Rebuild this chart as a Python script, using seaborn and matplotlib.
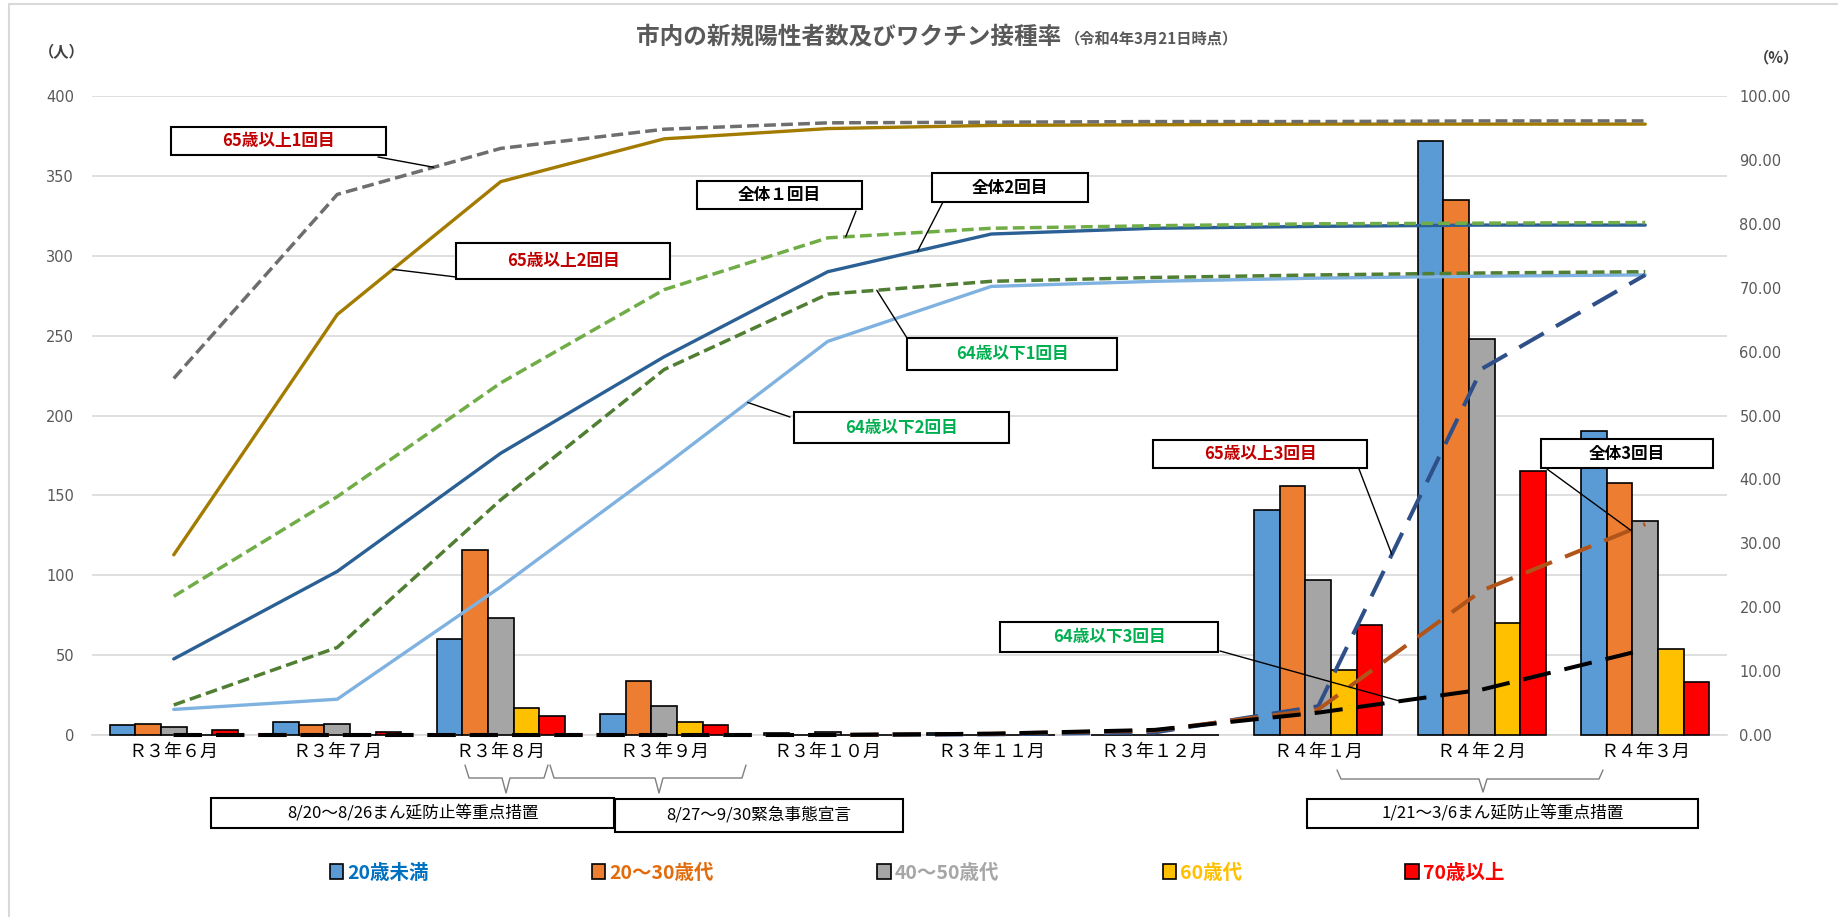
import numpy as np
import pandas as pd
import seaborn as sns
import matplotlib.pyplot as plt
from matplotlib.patches import Rectangle, Patch, ConnectionPatch
from matplotlib.lines import Line2D

W, H = 1838, 917

months = ['Ｒ３年６月', 'Ｒ３年７月', 'Ｒ３年８月', 'Ｒ３年９月', 'Ｒ３年１０月',
          'Ｒ３年１１月', 'Ｒ３年１２月', 'Ｒ４年１月', 'Ｒ４年２月', 'Ｒ４年３月']
age_groups = ['20歳未満', '20～30歳代', '40～50歳代', '60歳代', '70歳以上']

# new positives per month (people, left axis)
under20 = [6, 8, 60, 13, 1, 1, 0, 141, 372, 190]
age20_30 = [7, 6, 116, 34, 0, 0, 0, 156, 335, 158]
age40_50 = [5, 7, 73, 18, 2, 0, 0, 97, 248, 134]
age60s = [0, 0, 17, 8, 0, 0, 0, 41, 70, 54]
age70plus = [3, 2, 12, 6, 0, 0, 0, 69, 165, 33]

# vaccination rates (%, right axis)
over65_1st = [55.8, 84.6, 91.8, 94.8, 95.8, 95.9, 96.0, 96.0, 96.1, 96.1]
over65_2nd = [28.2, 65.8, 86.6, 93.3, 94.9, 95.4, 95.5, 95.6, 95.6, 95.6]
all_1st = [21.7, 37.3, 55.1, 69.7, 77.8, 79.3, 79.7, 80.0, 80.1, 80.2]
all_2nd = [11.9, 25.6, 44.1, 59.2, 72.5, 78.4, 79.3, 79.6, 79.8, 79.8]
under64_1st = [4.7, 13.7, 36.8, 57.2, 69.0, 71.0, 71.6, 72.0, 72.3, 72.5]
under64_2nd = [4.0, 5.6, 23.2, 42.1, 61.6, 70.2, 71.0, 71.5, 71.8, 72.0]
over65_3rd = [0, 0, 0, 0, 0, 0.1, 0.4, 4.5, 57.3, 72.0]
all_3rd = [0, 0, 0, 0, 0, 0.2, 0.7, 4.0, 22.6, 33.0]
under64_3rd = [0, 0, 0, 0, 0, 0.2, 0.8, 3.5, 7.1, 13.4]

bar_colors = ['#5B9BD5', '#ED7D31', '#A5A5A5', '#FFC000', '#FF0000']
legend_text_colors = ['#0070C0', '#E36C0A', '#A6A6A6', '#FFC000', '#FF0000']

FAM = ['Noto Sans CJK JP', 'DejaVu Sans']

sns.set_style('white')
plt.rcParams['font.family'] = FAM

fig = plt.figure(figsize=(W / 100, H / 100), dpi=100)
ax = fig.add_axes([92 / W, 1 - 735 / H, (1727 - 92) / W, (735 - 96) / H])

df = pd.DataFrame({'month': months, '20歳未満': under20, '20～30歳代': age20_30,
                   '40～50歳代': age40_50, '60歳代': age60s, '70歳以上': age70plus})
long = df.melt(id_vars='month', var_name='group', value_name='count')

sns.barplot(data=long, x='month', y='count', hue='group', order=months,
            hue_order=age_groups, palette=bar_colors, saturation=1, width=0.78,
            edgecolor='black', linewidth=1.2, errorbar=None, legend=False, ax=ax)
# zero bars show as black strokes on the base line, like the original
for p in ax.patches:
    p.set_clip_on(False)
    p.set_zorder(3)

ax.set_xlim(-0.5, 9.5)
ax.set_ylim(0, 400)
ax.set_yticks(range(0, 401, 50))
ax.set_xlabel('')
ax.set_ylabel('')
ax.grid(axis='y', color='#D9D9D9', linewidth=1.2)
ax.set_axisbelow(True)
for s in ['top', 'right', 'left']:
    ax.spines[s].set_visible(False)
ax.spines['bottom'].set_color('#D9D9D9')
ax.spines['bottom'].set_linewidth(1.2)
ax.tick_params(axis='y', length=0, pad=13, labelsize=10.5, labelcolor='#595959')
ax.tick_params(axis='x', which='major', length=0, pad=6, labelsize=13, labelcolor='black')
ax.set_xticks(np.arange(-0.5, 10, 1), minor=True)
ax.tick_params(axis='x', which='minor', length=5, color='#D9D9D9', width=1.2)
for t in ax.get_yticklabels():
    t.set_fontfamily('DejaVu Sans')

# rate lines on the right axis
ax2 = ax.twinx()
xpos = np.arange(len(months))
third_dash = (0, (7, 3.5))
line_specs = [
    (under64_2nd, '#7FB2E0', '-', 2.4),
    (all_2nd, '#2B6095', '-', 2.4),
    (over65_2nd, '#A27B00', '-', 2.4),
    (under64_1st, '#507E32', (0, (3.4, 1.5)), 2.5),
    (all_1st, '#70AD47', (0, (3.4, 1.5)), 2.5),
    (over65_1st, '#6E6E6E', (0, (3.4, 1.5)), 2.5),
    (over65_3rd, '#2F4F88', third_dash, 2.9),
    (all_3rd, '#B0541A', third_dash, 2.9),
    (under64_3rd, '#000000', third_dash, 2.9),
]
for vals, col, ls, lw in line_specs:
    sns.lineplot(x=xpos, y=vals, ax=ax2, color=col, linestyle=ls, linewidth=lw)
for ln in ax2.lines:
    ln.set_clip_on(False)

ax2.set_ylim(0, 100)
ax2.set_yticks(range(0, 101, 10))
ax2.set_yticklabels([f'{v:.2f}' for v in range(0, 101, 10)])
ax2.set_ylabel('')
for s in ['top', 'right', 'left', 'bottom']:
    ax2.spines[s].set_visible(False)
ax2.tick_params(axis='y', length=0, pad=9, labelsize=10.5, labelcolor='#595959')
for t in ax2.get_yticklabels():
    t.set_fontfamily('DejaVu Sans')


def fx(x):
    return x / W


def fy(y):
    return 1 - y / H


# chart border
fig.add_artist(Rectangle((fx(9), -0.1), 1.2, fy(4) + 0.1, transform=fig.transFigure,
                         fill=False, edgecolor='#D9D9D9', linewidth=1.5))

# title
title = fig.text(0, fy(43), '市内の新規陽性者数及びワクチン接種率', fontsize=17,
                 fontweight='bold', color='#595959', va='baseline', ha='left')
sub = fig.text(0, fy(43), '（令和4年3月21日時点）', fontsize=11, fontweight='bold',
               color='#595959', va='baseline', ha='left')
fig.canvas.draw()
r = fig.canvas.get_renderer()
tw = title.get_window_extent(r).width
sw = sub.get_window_extent(r).width
x0 = 937 - (tw + sw + 4) / 2
title.set_x(fx(x0))
sub.set_x(fx(x0 + tw + 4))

fig.text(fx(62), fy(52), '（人）', fontsize=11, fontweight='bold', color='#404040',
         ha='center', va='center')
fig.text(fx(1777), fy(57), '（%）', fontsize=11, fontweight='bold', color='#404040',
         ha='center', va='center')

# callout boxes: text, colour, box (left, top, right, bottom px), leader start px, tip (x, series)
callouts = [
    ('65歳以上1回目', '#C00000', (171, 127, 386, 155), (378, 157), (1.59, over65_1st)),
    ('65歳以上2回目', '#C00000', (456, 243, 670, 279), (456, 277), (1.34, over65_2nd)),
    ('全体１回目', 'black', (697, 181, 862, 209), (856, 211), (4.11, all_1st)),
    ('全体2回目', 'black', (932, 173, 1088, 202), (943, 202), (4.55, all_2nd)),
    ('64歳以下1回目', '#00B050', (907, 338, 1117, 370), (907, 338), (4.30, under64_1st)),
    ('64歳以下2回目', '#00B050', (794, 412, 1009, 443), (790, 417), (3.51, under64_2nd)),
    ('65歳以上3回目', '#C00000', (1153, 440, 1367, 468), (1359, 469), (7.45, over65_3rd)),
    ('全体3回目', 'black', (1541, 439, 1713, 468), (1547, 469), (8.91, all_3rd)),
    ('64歳以下3回目', '#00B050', (1000, 622, 1218, 652), (1220, 651), (7.50, under64_3rd)),
]
for text, col, (l, t, rgt, b), start, (tx, series) in callouts:
    ty = np.interp(tx, xpos, series)
    fig.add_artist(ConnectionPatch(xyA=(fx(start[0]), fy(start[1])), coordsA=fig.transFigure,
                                   xyB=(tx, ty), coordsB=ax2.transData,
                                   color='black', linewidth=1))
    fig.add_artist(Rectangle((fx(l), fy(b)), fx(rgt - l), (b - t) / H, transform=fig.transFigure,
                             facecolor='white', edgecolor='black', linewidth=1.5))
    fig.text(fx((l + rgt) / 2), fy((t + b) / 2), text, color=col, fontsize=12,
             fontweight='bold', ha='center', va='center')

# period brackets and boxes
brackets = [(465, 548, 506, 765, 778, 793), (550, 746, 659, 765, 778, 793),
            (1337, 1603, 1483, 770, 779, 792)]
for a, b, m, top, bot, pt in brackets:
    xs = [a, a + 4, m - 4, m, m + 4, b - 4, b]
    ys = [top, bot, bot, pt, bot, bot, top]
    fig.add_artist(Line2D([fx(v) for v in xs], [fy(v) for v in ys], transform=fig.transFigure,
                          color='#7F7F7F', linewidth=1))

periods = [('8/20～8/26まん延防止等重点措置', (211, 798, 614, 828)),
           ('8/27～9/30緊急事態宣言', (615, 799, 903, 832)),
           ('1/21～3/6まん延防止等重点措置', (1307, 799, 1698, 828))]
for text, (l, t, rgt, b) in periods:
    fig.add_artist(Rectangle((fx(l), fy(b)), fx(rgt - l), (b - t) / H, transform=fig.transFigure,
                             facecolor='white', edgecolor='black', linewidth=1.5))
    fig.text(fx((l + rgt) / 2), fy((t + b) / 2), text, color='black', fontsize=12,
             ha='center', va='center')

# legend
handles = [Patch(facecolor=c, edgecolor='black', linewidth=1.2) for c in bar_colors]
leg = fig.legend(handles, age_groups, loc='center', bbox_to_anchor=(fx(917), fy(873)),
                 ncol=5, frameon=False, handlelength=0.7, handleheight=0.8,
                 handletextpad=0.2, columnspacing=8.4,
                 prop={'family': FAM, 'size': 14, 'weight': 'bold'})
for txt, c in zip(leg.get_texts(), legend_text_colors):
    txt.set_color(c)

fig.savefig('out.png', dpi=100)
